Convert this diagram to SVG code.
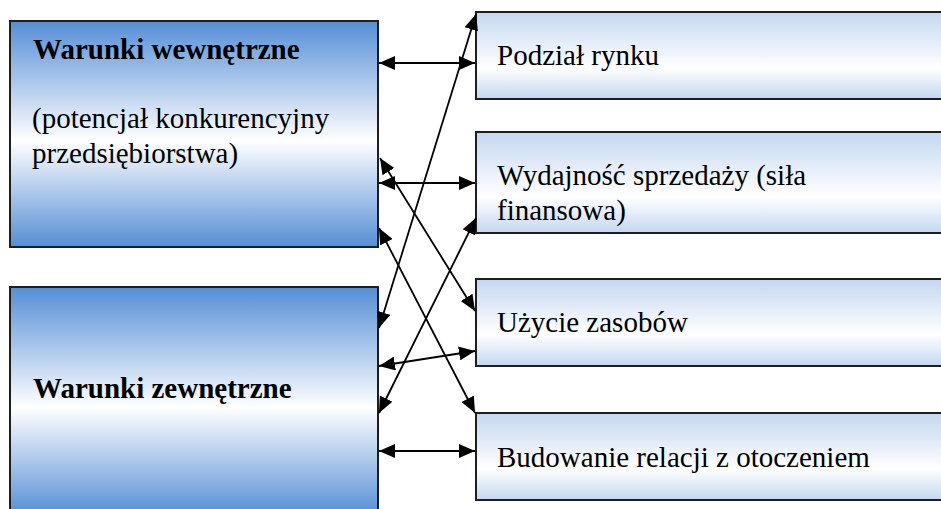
<svg xmlns="http://www.w3.org/2000/svg" width="941" height="509" viewBox="0 0 941 509">
  <defs>
    <linearGradient id="gradLeft" x1="0" y1="0" x2="0" y2="1">
      <stop offset="0" stop-color="#558ed5"/>
      <stop offset="0.53" stop-color="#ffffff"/>
      <stop offset="1" stop-color="#558ed5"/>
    </linearGradient>
    <linearGradient id="gradRight" x1="0" y1="0" x2="0" y2="1">
      <stop offset="0" stop-color="#c4d7f0"/>
      <stop offset="0.64" stop-color="#ffffff"/>
      <stop offset="1" stop-color="#c4d7f0"/>
    </linearGradient>
    <marker id="arrow" viewBox="0 0 16 14" refX="16" refY="7" markerWidth="16" markerHeight="14" markerUnits="userSpaceOnUse" orient="auto-start-reverse">
      <path d="M0,0 L16,7 L0,14 z" fill="#000"/>
    </marker>
    <style>
      .left { fill: url(#gradLeft); stroke: #1e1e1e; stroke-width: 2; }
      .right { fill: url(#gradRight); stroke: #1e1e1e; stroke-width: 2; }
      .label { font-family: 'Liberation Serif', 'DejaVu Serif', serif; font-size: 29px; fill: #000; }
      .bold { font-weight: bold; }
      .conn line { stroke: #000; stroke-width: 1.8; marker-start: url(#arrow); marker-end: url(#arrow); }
    </style>
  </defs>

  <rect width="941" height="509" fill="#ffffff"/>

  <!-- left column -->
  <g id="internal">
    <rect class="left" x="10" y="21" width="368" height="226"/>
    <text class="label bold" font-family="Liberation Serif, serif" x="33" y="59">Warunki wewnętrzne</text>
    <text class="label" font-family="Liberation Serif, serif" x="32" y="128">(potencjał konkurencyjny</text>
    <text class="label" font-family="Liberation Serif, serif" x="32" y="163">przedsiębiorstwa)</text>
  </g>
  <g id="external">
    <rect class="left" x="10" y="287" width="368" height="228"/>
    <text class="label bold" font-family="Liberation Serif, serif" x="33" y="398">Warunki zewnętrzne</text>
  </g>

  <!-- right column -->
  <g id="market-share">
    <rect class="right" x="476" y="12" width="470" height="87"/>
    <text class="label" font-family="Liberation Serif, serif" x="497" y="65">Podział rynku</text>
  </g>
  <g id="sales-efficiency">
    <rect class="right" x="476" y="132" width="470" height="101"/>
    <text class="label" font-family="Liberation Serif, serif" x="497" y="185">Wydajność sprzedaży (siła</text>
    <text class="label" font-family="Liberation Serif, serif" x="497" y="220">finansowa)</text>
  </g>
  <g id="resource-use">
    <rect class="right" x="476" y="279" width="470" height="87"/>
    <text class="label" font-family="Liberation Serif, serif" x="497" y="332">Użycie zasobów</text>
  </g>
  <g id="relations">
    <rect class="right" x="476" y="413" width="470" height="87"/>
    <text class="label" font-family="Liberation Serif, serif" x="497" y="467">Budowanie relacji z otoczeniem</text>
  </g>

  <!-- two-way links -->
  <g id="connectors" class="conn">
    <line x1="379" y1="63" x2="475" y2="63"/>
    <line x1="379" y1="183" x2="475" y2="183"/>
    <line x1="379" y1="451" x2="475" y2="451"/>
    <line x1="379" y1="366" x2="475" y2="351"/>
    <line x1="379" y1="328" x2="476" y2="14"/>
    <line x1="380" y1="158" x2="475" y2="311"/>
    <line x1="379" y1="228" x2="475" y2="413"/>
    <line x1="379" y1="413" x2="476" y2="218"/>
  </g>
</svg>
